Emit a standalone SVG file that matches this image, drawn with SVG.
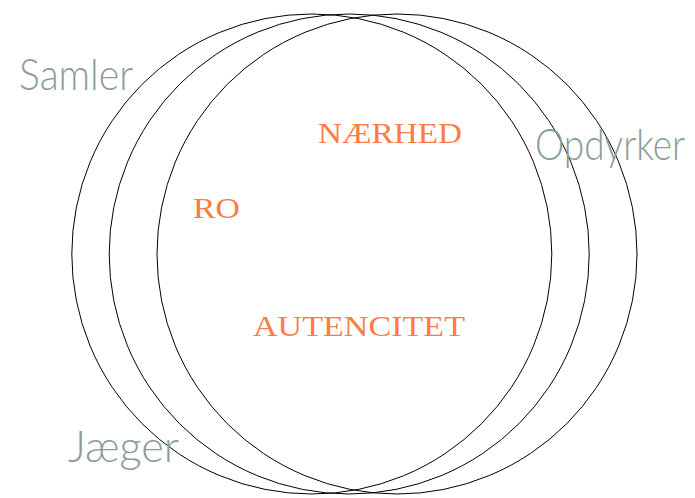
<svg xmlns="http://www.w3.org/2000/svg" width="695" height="498" viewBox="0 0 695 498">
<style>
.c{fill:none;stroke:#000;stroke-width:1}
.g{font-family:"Lato","Liberation Sans",sans-serif;font-weight:300;fill:#8a9e96;font-size:44px}
.o{font-family:"Liberation Serif",serif;fill:#fb7d45;font-size:29px}
</style>
<rect width="695" height="498" fill="#fff"/>
<g id="circles">
<circle id="c1" class="c" cx="311.8" cy="254" r="240"/>
<circle id="c2" class="c" cx="349.2" cy="254" r="240"/>
<circle id="c3" class="c" cx="397" cy="254" r="240"/>
</g>
<g id="labels">
<text id="samler" class="g" x="19" y="90" textLength="114" lengthAdjust="spacingAndGlyphs">Samler</text>
<text id="opdyrker" class="g" x="535" y="160" textLength="150" lengthAdjust="spacingAndGlyphs">Opdyrker</text>
<text id="jaeger" class="g" x="68" y="462" textLength="111" lengthAdjust="spacingAndGlyphs">Jæger</text>
<text id="naerhed" class="o" x="318" y="143" textLength="144" lengthAdjust="spacingAndGlyphs">NÆRHED</text>
<text id="ro" class="o" x="193" y="218" textLength="47" lengthAdjust="spacingAndGlyphs">RO</text>
<text id="autencitet" class="o" x="253" y="336" textLength="212" lengthAdjust="spacingAndGlyphs">AUTENCITET</text>
</g>
</svg>
